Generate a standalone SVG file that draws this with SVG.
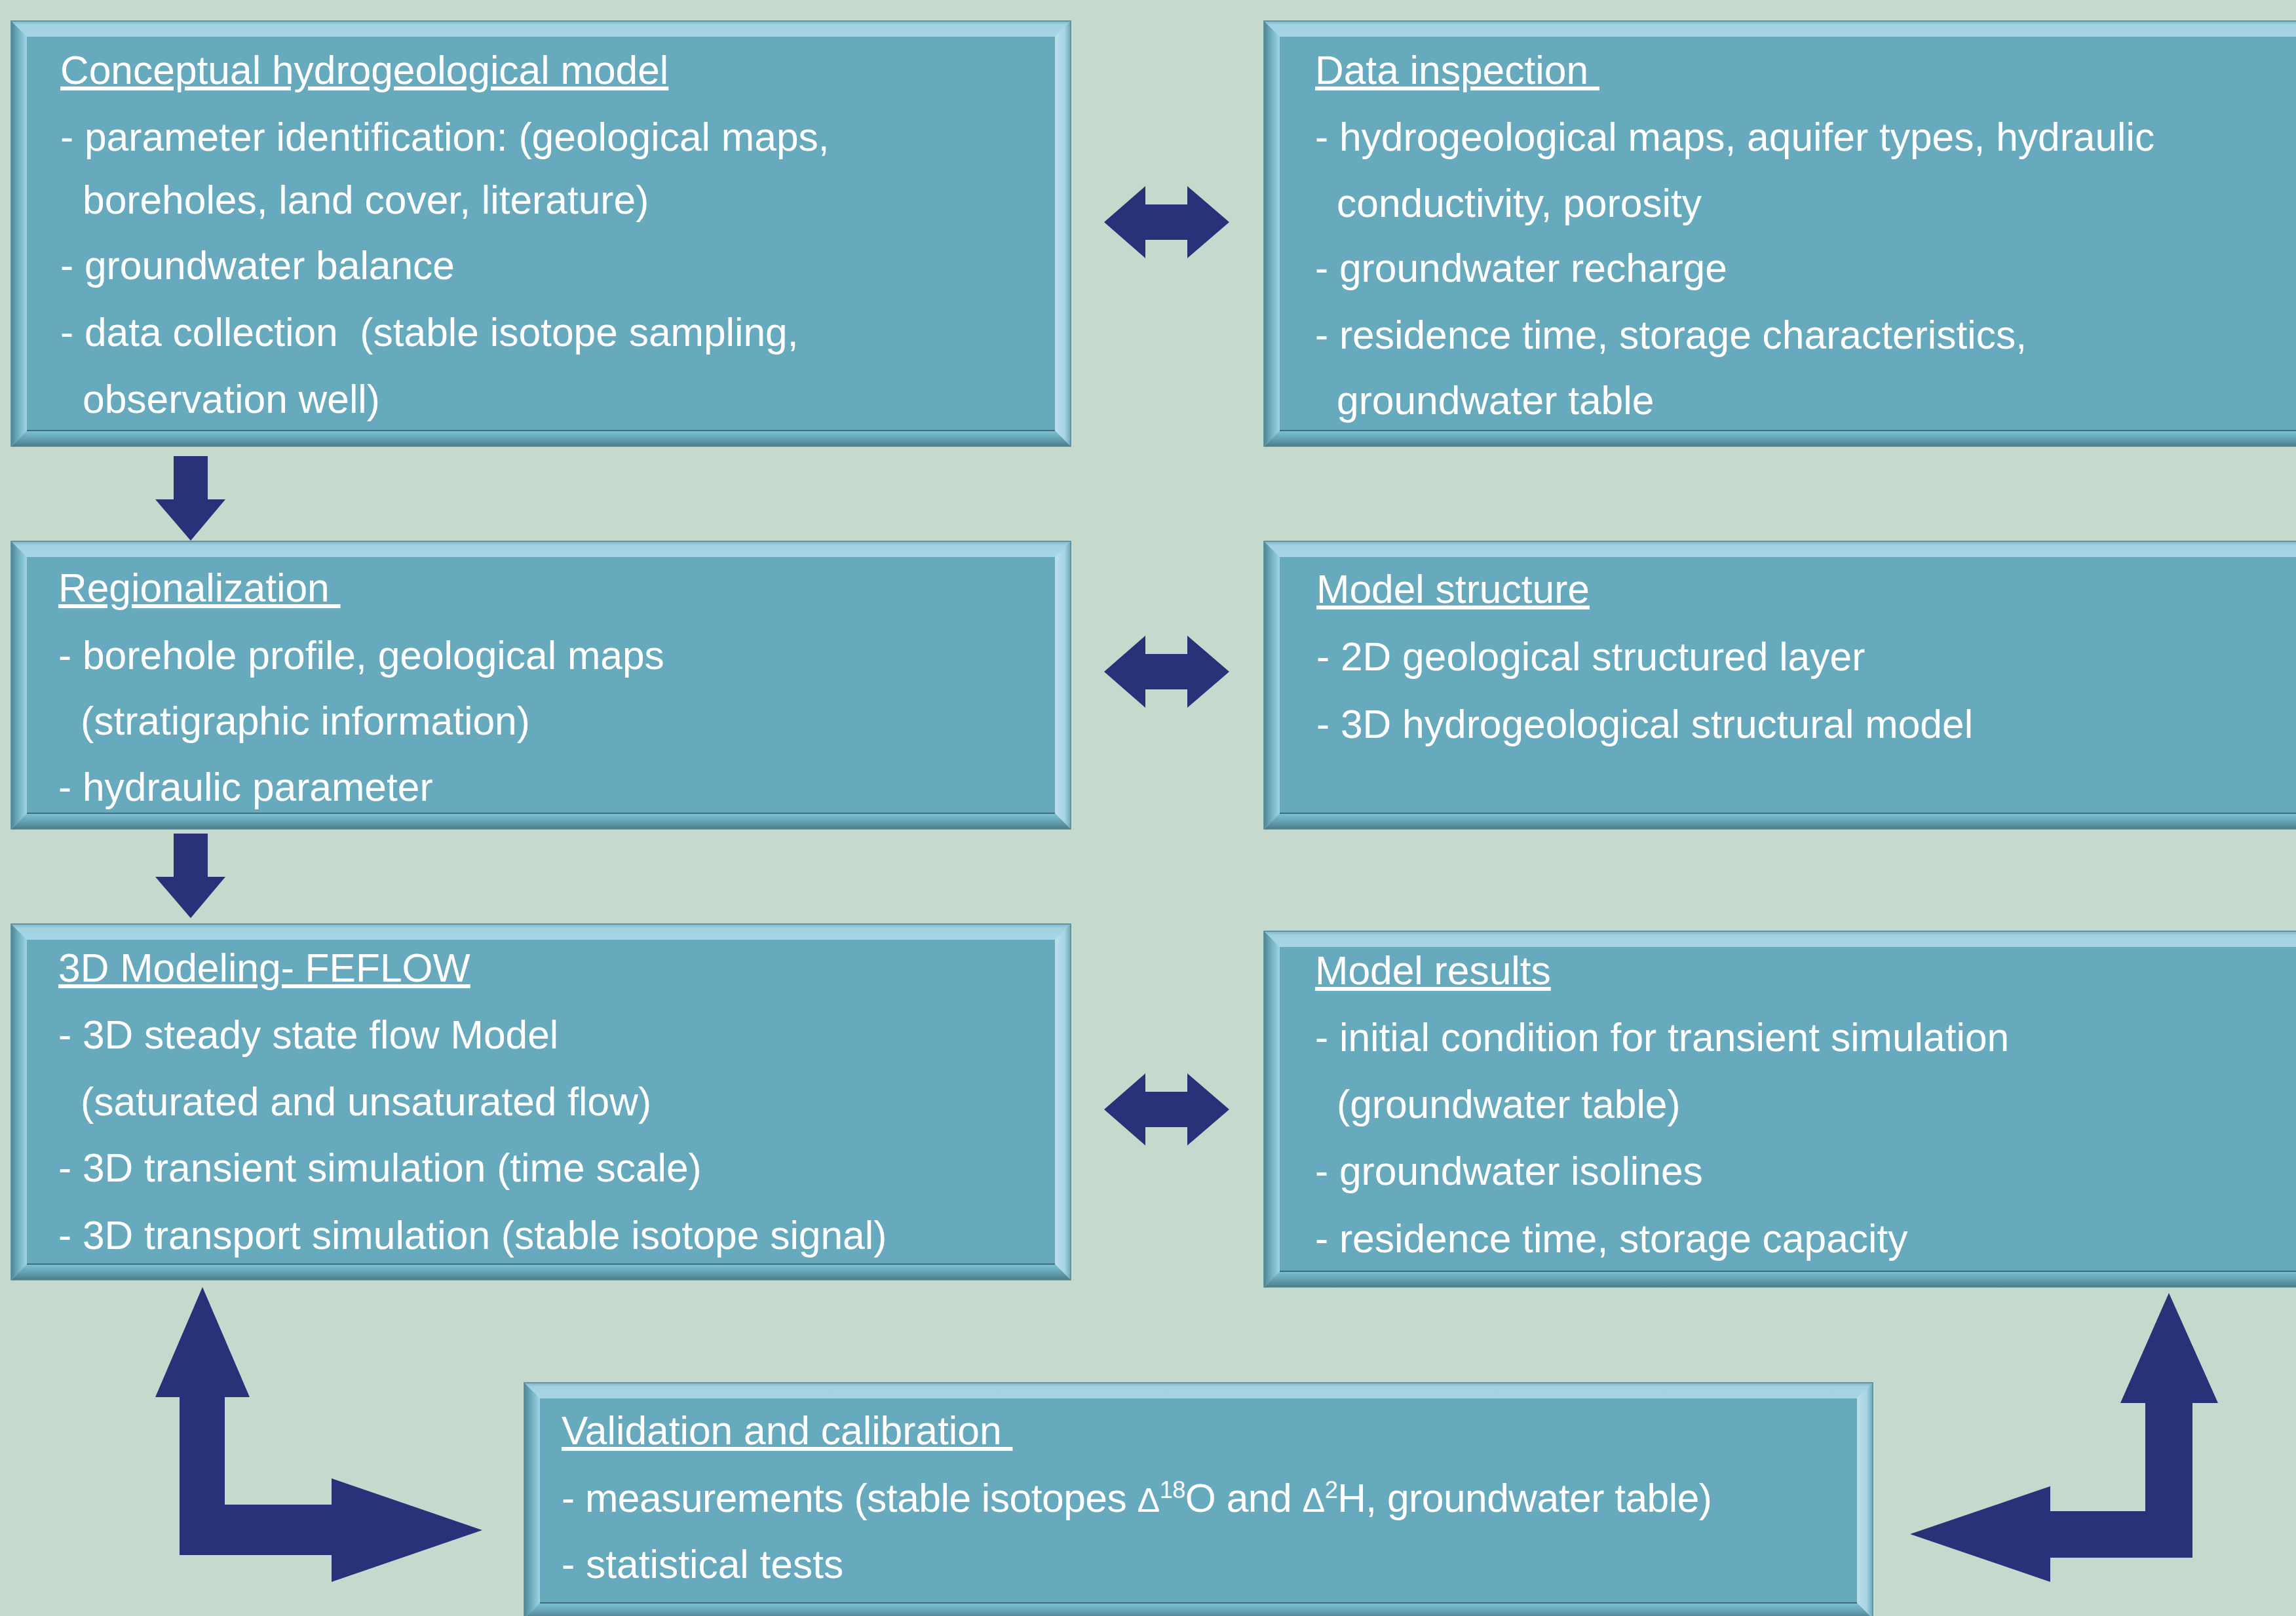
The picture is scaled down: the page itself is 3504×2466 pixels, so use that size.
<svg xmlns="http://www.w3.org/2000/svg" width="3504" height="2466" viewBox="0 0 3504 2466">
<defs>
<linearGradient id="gTop" x1="0" y1="0" x2="0" y2="1"><stop offset="0" stop-color="#79B4C5"/><stop offset="0.25" stop-color="#A2D2E2"/><stop offset="1" stop-color="#A7D5E4"/></linearGradient>
<linearGradient id="gLeft" x1="0" y1="0" x2="1" y2="0"><stop offset="0" stop-color="#4D8898"/><stop offset="0.65" stop-color="#7FBDCE"/><stop offset="1" stop-color="#A0D4E3"/></linearGradient>
<linearGradient id="gRight" x1="0" y1="0" x2="1" y2="0"><stop offset="0" stop-color="#BBE0EC"/><stop offset="0.6" stop-color="#A8D5E4"/><stop offset="1" stop-color="#6FA8B9"/></linearGradient>
<linearGradient id="gBot" x1="0" y1="0" x2="0" y2="1"><stop offset="0" stop-color="#7DC3D5"/><stop offset="0.5" stop-color="#65A3B5"/><stop offset="1" stop-color="#4C7C8B"/></linearGradient>
</defs>
<style>
.bg{fill:#C6D9CD}
.inner{fill:#68AABD}
.t{fill:url(#gTop)}
.l{fill:url(#gLeft)}
.r{fill:url(#gRight)}
.b{fill:url(#gBot)}
.edge{fill:none;stroke:#4F8596;stroke-width:1.5}
.sep{stroke:#3F6F7D;stroke-width:2}
text{font-family:"Liberation Sans",Arial,sans-serif;font-size:60.5px;fill:#FFFFFF}
.ttl{text-decoration:underline}
.arr{fill:#283278}
</style>
<rect class="bg" x="0" y="0" width="3504" height="2466"/>

<g id="node-conceptual">
<rect class="inner" x="41" y="56" width="1569" height="601"/>
<polygon class="t" points="17,32 1634,32 1610,56 41,56"/>
<polygon class="l" points="17,32 41,56 41,657 17,681"/>
<polygon class="r" points="1634,32 1634,681 1610,657 1610,56"/>
<polygon class="b" points="17,681 41,657 1610,657 1634,681"/>
<line class="sep" x1="41" y1="657" x2="1610" y2="657"/>
<rect class="edge" x="17" y="32" width="1617" height="649"/>
<text class="ttl" x="92" y="128">Conceptual hydrogeological model</text>
<text x="92" y="230">- parameter identification: (geological maps,</text>
<text x="126" y="326">boreholes, land cover, literature)</text>
<text x="92" y="426">- groundwater balance</text>
<text x="92" y="528" xml:space="preserve">- data collection  (stable isotope sampling,</text>
<text x="126" y="630">observation well)</text>
</g>

<g id="node-data-inspection">
<rect class="inner" x="1953" y="56" width="1553" height="601"/>
<polygon class="t" points="1929,32 3530,32 3506,56 1953,56"/>
<polygon class="l" points="1929,32 1953,56 1953,657 1929,681"/>
<polygon class="b" points="1929,681 1953,657 3506,657 3530,681"/>
<line class="sep" x1="1953" y1="657" x2="3506" y2="657"/>
<rect class="edge" x="1929" y="32" width="1601" height="649"/>
<text class="ttl" x="2007" y="128" xml:space="preserve">Data inspection </text>
<text x="2007" y="230">- hydrogeological maps, aquifer types, hydraulic</text>
<text x="2040" y="331">conductivity, porosity</text>
<text x="2007" y="430">- groundwater recharge</text>
<text x="2007" y="532">- residence time, storage characteristics,</text>
<text x="2040" y="632">groundwater table</text>
</g>

<g id="node-regionalization">
<rect class="inner" x="41" y="850" width="1569" height="391"/>
<polygon class="t" points="17,826 1634,826 1610,850 41,850"/>
<polygon class="l" points="17,826 41,850 41,1241 17,1265"/>
<polygon class="r" points="1634,826 1634,1265 1610,1241 1610,850"/>
<polygon class="b" points="17,1265 41,1241 1610,1241 1634,1265"/>
<line class="sep" x1="41" y1="1241" x2="1610" y2="1241"/>
<rect class="edge" x="17" y="826" width="1617" height="439"/>
<text class="ttl" x="89" y="918" xml:space="preserve">Regionalization </text>
<text x="89" y="1021">- borehole profile, geological maps</text>
<text x="123" y="1121">(stratigraphic information)</text>
<text x="89" y="1222">- hydraulic parameter</text>
</g>

<g id="node-model-structure">
<rect class="inner" x="1953" y="850" width="1553" height="391"/>
<polygon class="t" points="1929,826 3530,826 3506,850 1953,850"/>
<polygon class="l" points="1929,826 1953,850 1953,1241 1929,1265"/>
<polygon class="b" points="1929,1265 1953,1241 3506,1241 3530,1265"/>
<line class="sep" x1="1953" y1="1241" x2="3506" y2="1241"/>
<rect class="edge" x="1929" y="826" width="1601" height="439"/>
<text class="ttl" x="2009" y="920">Model structure</text>
<text x="2009" y="1023">- 2D geological structured layer</text>
<text x="2009" y="1126">- 3D hydrogeological structural model</text>
</g>

<g id="node-3d-modeling">
<rect class="inner" x="41" y="1434" width="1569" height="495"/>
<polygon class="t" points="17,1410 1634,1410 1610,1434 41,1434"/>
<polygon class="l" points="17,1410 41,1434 41,1929 17,1953"/>
<polygon class="r" points="1634,1410 1634,1953 1610,1929 1610,1434"/>
<polygon class="b" points="17,1953 41,1929 1610,1929 1634,1953"/>
<line class="sep" x1="41" y1="1929" x2="1610" y2="1929"/>
<rect class="edge" x="17" y="1410" width="1617" height="543"/>
<text class="ttl" x="89" y="1498">3D Modeling- FEFLOW</text>
<text x="89" y="1600">- 3D steady state flow Model</text>
<text x="123" y="1702">(saturated and unsaturated flow)</text>
<text x="89" y="1803">- 3D transient simulation (time scale)</text>
<text x="89" y="1906">- 3D transport simulation (stable isotope signal)</text>
</g>

<g id="node-model-results">
<rect class="inner" x="1953" y="1445" width="1553" height="495"/>
<polygon class="t" points="1929,1421 3530,1421 3506,1445 1953,1445"/>
<polygon class="l" points="1929,1421 1953,1445 1953,1940 1929,1964"/>
<polygon class="b" points="1929,1964 1953,1940 3506,1940 3530,1964"/>
<line class="sep" x1="1953" y1="1940" x2="3506" y2="1940"/>
<rect class="edge" x="1929" y="1421" width="1601" height="543"/>
<text class="ttl" x="2007" y="1502">Model results</text>
<text x="2007" y="1604">- initial condition for transient simulation</text>
<text x="2040" y="1706">(groundwater table)</text>
<text x="2007" y="1808">- groundwater isolines</text>
<text x="2007" y="1911">- residence time, storage capacity</text>
</g>

<g id="node-validation">
<rect class="inner" x="824" y="2134" width="2010" height="312"/>
<polygon class="t" points="800,2110 2858,2110 2834,2134 824,2134"/>
<polygon class="l" points="800,2110 824,2134 824,2446 800,2470"/>
<polygon class="r" points="2858,2110 2858,2470 2834,2446 2834,2134"/>
<polygon class="b" points="800,2470 824,2446 2834,2446 2858,2470"/>
<line class="sep" x1="824" y1="2446" x2="2834" y2="2446"/>
<rect class="edge" x="800" y="2110" width="2058" height="360"/>
<text class="ttl" x="857" y="2204" xml:space="preserve">Validation and calibration </text>
<text x="857" y="2307" textLength="1756" lengthAdjust="spacing">- measurements (stable isotopes <tspan font-size="52">Δ</tspan><tspan font-size="36" dy="-21">18</tspan><tspan dy="21">O and </tspan><tspan font-size="52">Δ</tspan><tspan font-size="36" dy="-21">2</tspan><tspan dy="21">H, groundwater table)</tspan></text>
<text x="857" y="2408">- statistical tests</text>
</g>

<g id="connectors">
<polygon class="arr" points="1685,339 1748,284 1748,312 1812,312 1812,284 1876,339 1812,394 1812,366 1748,366 1748,394"/>
<polygon class="arr" points="1685,1025 1748,970 1748,998 1812,998 1812,970 1876,1025 1812,1080 1812,1052 1748,1052 1748,1080"/>
<polygon class="arr" points="1685,1693 1748,1638 1748,1666 1812,1666 1812,1638 1876,1693 1812,1748 1812,1720 1748,1720 1748,1748"/>
<polygon class="arr" points="265,696 317,696 317,762 344,762 291,825 237,762 265,762"/>
<polygon class="arr" points="265,1272 317,1272 317,1338 344,1338 291,1401 237,1338 265,1338"/>
<polygon class="arr" points="309,1964 381,2132 343,2132 343,2296 506,2296 506,2256 736,2335 506,2414 506,2373 274,2373 274,2132 237,2132"/>
<polygon class="arr" points="3310,1973 3385,2141 3346,2141 3346,2377 3129,2377 3129,2414 2915,2341 3129,2268 3129,2306 3274,2306 3274,2141 3236,2141"/>
</g>
</svg>
